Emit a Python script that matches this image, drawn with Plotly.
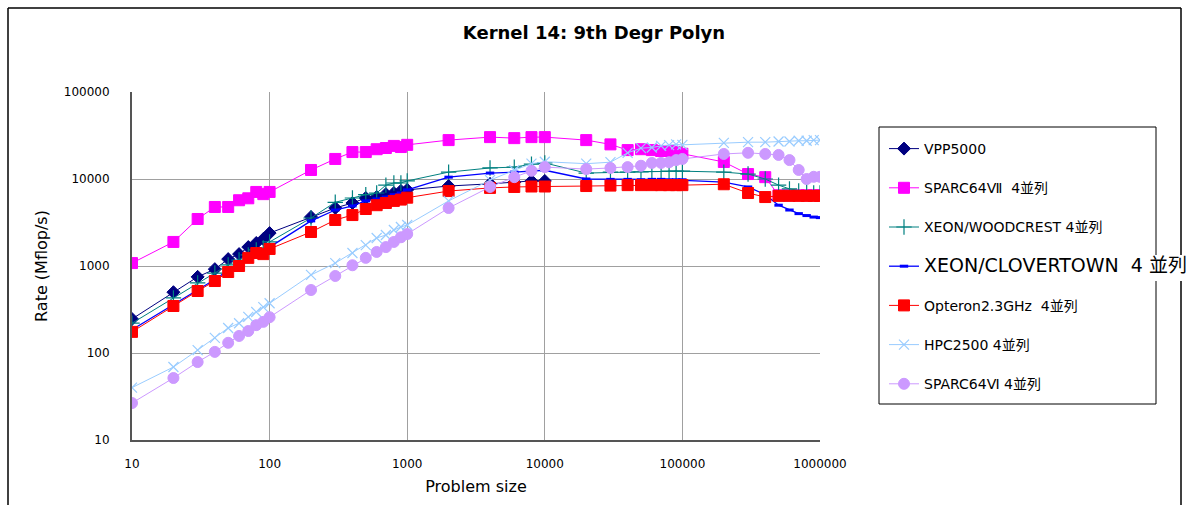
import plotly.graph_objects as go

sizes = [10, 20, 30, 40, 50, 60, 70, 80, 90, 100,
         200, 300, 400, 500, 600, 700, 800, 900, 1000,
         2000, 4000, 6000, 8000, 10000,
         20000, 30000, 40000, 50000, 60000, 70000, 80000, 90000, 100000,
         200000, 300000, 400000, 500000, 600000, 700000, 800000, 900000, 1000000]

vpp5000 = [246, 500, 750, 920, 1200, 1370, 1650, 1840, 2040, 2390,
           3660, 4640, 5300, 6050, 6200, 6700, 6900, 7300, 7500,
           8300, 8800, 9200, 9500, 9500,
           None, None, None, None, None, None, None, None, None,
           None, None, None, None, None, None, None, None, None]

sparc64vii = [1080, 1890, 3470, 4770, 4770, 5700, 6000, 7100, 6700, 7100,
              12700, 17000, 20400, 20400, 22000, 22700, 24000, 23300, 24700,
              28000, 30300, 29500, 30300, 30300,
              28000, 25000, 21500, 22000, 21500, 21000, 21000, 20500, 19500,
              15700, 11400, 10500, 6500, 6500, 6500, 6500, 6500, 6500]

woodcrest = [220, 430, 640, 830, 1030, 1170, 1340, 1530, 1610, 1890,
             3560, 5400, 6050, 6600, 6900, 8500, 9000, 9000, 9500,
             12000, 13400, 13700, 14800, 15300,
             11700, 12000, 12000, 12100, 12200, 12200, 12300, 12300, 12300,
             12000, 11400, 10000, 8500, 7700, 7300, 7100, 6900, 6900]

clovertown = [185, 360, 540, 700, 890, 1050, 1280, 1450, 1500, 1650,
              3300, 4400, 4900, 5600, 5900, 6200, 6600, 6900, 7500,
              10500, 11700, 12000, 12300, 12600,
              10000, 9900, 9900, 9800, 9900, 9900, 9800, 9800, 9800,
              9200, 8100, 6600, 5000, 4400, 4000, 3800, 3650, 3600]

opteron = [175, 347, 516, 672, 853, 1000, 1240, 1410, 1370, 1570,
           2460, 3380, 3850, 4520, 5000, 5300, 5600, 5800, 6100,
           7270, 7900, 8100, 8200, 8200,
           8300, 8400, 8500, 8500, 8500, 8500, 8500, 8500, 8500,
           8700, 6900, 6200, 6400, 6400, 6400, 6400, 6400, 6400]

hpc2500 = [40, 69, 108, 149, 194, 220, 260, 296, 337, 373,
           790, 1080, 1410, 1740, 2100, 2270, 2590, 2810, 2960,
           5600, 9700, 12600, 15000, 15800,
           15000, 15600, 20000, 22600, 23000, 24000, 24500, 25000, 24700,
           26000, 26500, 26500, 27000, 27000, 27500, 27500, 28000, 28000]

sparc64vi = [26.6, 51.6, 78.7, 103, 131, 157, 179, 209, 228, 258,
             530, 768, 1020, 1240, 1450, 1650, 1890, 2140, 2330,
             4640, 8100, 10500, 12400, 13700,
             13000, 13400, 13700, 14200, 15300, 15300, 15600, 16500, 17000,
             19400, 20000, 19400, 18900, 16500, 12700, 10000, 10600, 10600]

series_names = ["VPP5000", "SPARC64Ⅶ  4並列", "XEON/WOODCREST 4並列",
                "<span style='font-size:19px'>XEON/CLOVERTOWN  4 並列</span>",
                "Opteron2.3GHz  4並列", "HPC2500 4並列", "SPARC64Ⅵ 4並列"]

x_tick_vals = [10, 100, 1000, 10000, 100000, 1000000]
x_tick_text = ["10", "100", "1000", "10000", "100000", "1000000"]
y_tick_vals = [10, 100, 1000, 10000, 100000]
y_tick_text = ["10", "100", "1000", "10000", "100000"]

styles = [
    dict(color="#000080", symbol="diamond", size=10, lw=1),
    dict(color="#FF00FF", symbol="square", size=11, lw=1),
    dict(color="#008080", symbol="cross-thin", size=11, lw=1),
    dict(color="#0000FF", symbol="line-ew", size=6, lw=1.3),
    dict(color="#FF0000", symbol="square", size=11, lw=1),
    dict(color="#99CCFF", symbol="x-thin", size=10, lw=1),
    dict(color="#CC99FF", symbol="circle", size=11, lw=1),
]

data = [vpp5000, sparc64vii, woodcrest, clovertown, opteron, hpc2500, sparc64vi]

fig = go.Figure()
for i, (name, vals, st) in enumerate(zip(series_names, data, styles)):
    mline = dict(color=st["color"], width=1)
    if st["symbol"] == "line-ew":
        mline = dict(color=st["color"], width=3)
    elif st["symbol"] in ("cross-thin", "x-thin"):
        mline = dict(color=st["color"], width=1.2)
    fig.add_trace(go.Scatter(
        x=sizes, y=vals, name=name, mode="lines+markers",
        legendgroup=f"g{i}",
        line=dict(color=st["color"], width=st["lw"]),
        marker=dict(symbol=st["symbol"], size=st["size"], color=st["color"], line=mline),
        connectgaps=False,
    ))

W, H = 1200, 506
L, R, T, B = 132, 820, 92, 440

def px(x):
    return (x - L) / (R - L)

def py(y):
    return (B - y) / (B - T)

frame_line = dict(color="#000000", width=1.5)
shapes = [
    # outer chart frame (left, top, right; bottom lies below the page)
    dict(type="line", xref="paper", yref="paper", x0=px(8), x1=px(8), y0=py(505), y1=py(8),
         line=frame_line, layer="above"),
    dict(type="line", xref="paper", yref="paper", x0=px(8), x1=px(1181), y0=py(8), y1=py(8),
         line=frame_line, layer="above"),
    dict(type="line", xref="paper", yref="paper", x0=px(1181), x1=px(1181), y0=py(505), y1=py(8),
         line=frame_line, layer="above"),
    # legend box
    dict(type="rect", xref="paper", yref="paper", x0=px(879), x1=px(1156), y0=py(404), y1=py(127),
         line=dict(color="#000000", width=1), fillcolor="white", layer="below"),
    # white patch behind the oversized legend entry
    dict(type="rect", xref="paper", yref="paper", x0=px(912), x1=px(1195), y0=py(281), y1=py(255),
         line=dict(width=0), fillcolor="white", layer="above"),
]

fig.update_layout(
    width=W, height=H,
    margin=dict(l=L, r=W - R, t=T, b=H - B),
    paper_bgcolor="white", plot_bgcolor="white",
    font=dict(family="DejaVu Sans, Noto Sans CJK JP", color="#000000"),
    title=dict(text="<b>Kernel 14: 9th Degr Polyn</b>", x=0.495, xanchor="center",
               y=1 - 33 / H, yanchor="middle",
               font=dict(size=18, family="DejaVu Sans, Noto Sans CJK JP")),
    xaxis=dict(type="log", range=[1, 6], tickvals=x_tick_vals, ticktext=x_tick_text,
               showgrid=True, gridcolor="#A0A0A0", gridwidth=1,
               showline=True, linecolor="#555555", linewidth=2, zeroline=False,
               ticks="", ticklabelstandoff=12,
               tickfont=dict(size=12, family="DejaVu Sans"),
               title=dict(text="Problem size", standoff=10,
                          font=dict(size=16, family="DejaVu Sans"))),
    yaxis=dict(type="log", range=[1, 5], tickvals=y_tick_vals, ticktext=y_tick_text,
               showgrid=True, gridcolor="#A0A0A0", gridwidth=1,
               showline=True, linecolor="#555555", linewidth=2, zeroline=False,
               ticks="", ticklabelstandoff=18,
               tickfont=dict(size=12, family="DejaVu Sans"),
               title=dict(text="Rate (Mflop/s)", standoff=12,
                          font=dict(size=16, family="DejaVu Sans"))),
    legend=dict(xref="container", yref="container", x=884 / W, y=1 - 133 / H,
                xanchor="left", yanchor="top", bgcolor="rgba(0,0,0,0)",
                borderwidth=0, tracegroupgap=18, maxheight=1,
                font=dict(size=14, family="DejaVu Sans, Noto Sans CJK JP"),
                itemwidth=30),
    shapes=shapes,
    showlegend=True,
)

fig.write_html("out.html")
